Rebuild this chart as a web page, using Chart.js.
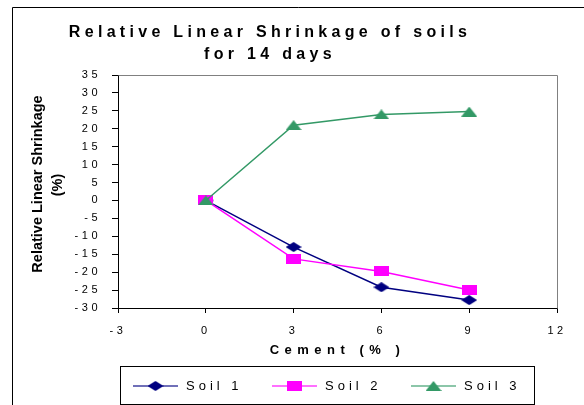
<!DOCTYPE html>
<html>
<head>
<meta charset="utf-8">
<script src="https://cdn.jsdelivr.net/npm/chart.js@4/dist/chart.umd.min.js"></script>
<style>
  html, body { margin: 0; padding: 0; background: #fff; }
  #wrap { width: 584px; height: 405px; position: relative; }
</style>
</head>
<body>
<div id="wrap"><canvas id="c" width="584" height="405"></canvas></div>
<script>
// Relative linear shrinkage (%) after 14 days against cement content (%)
const cementPct = [0, 3, 6, 9];
const soil1 = [0, -13.0, -24.2, -27.8];
const soil2 = [0, -16.3, -19.8, -25.0];
const soil3 = [0, 21.0, 24.0, 24.8];
const seriesNames = ['Soil 1', 'Soil 2', 'Soil 3'];
const seriesColors = ['#000080', '#FF00FF', '#339966'];
const titleLines = ['Relative Linear Shrinkage of soils', 'for 14 days'];
const yTitleLines = ['Relative Linear Shrinkage', '(%)'];
const xTitle = 'Cement (% )';

const FONT = '"Liberation Sans", Arial, Helvetica, sans-serif';

// Marker sprites (wide diamond, square and triangle)
function markerCanvas(shape, color, w, h) {
  const c = document.createElement('canvas');
  c.width = w; c.height = h;
  const g = c.getContext('2d');
  g.fillStyle = color;
  g.beginPath();
  if (shape === 'diamond') {
    g.moveTo(w / 2, 0); g.lineTo(w, h / 2); g.lineTo(w / 2, h); g.lineTo(0, h / 2);
  } else if (shape === 'square') {
    g.rect(0, 0, w, h);
  } else {
    g.moveTo(w / 2, 0); g.lineTo(w, h); g.lineTo(0, h);
  }
  g.closePath();
  g.fill();
  return c;
}
const markers = [
  markerCanvas('diamond', seriesColors[0], 16, 10),
  markerCanvas('square', seriesColors[1], 15, 10),
  markerCanvas('triangle', seriesColors[2], 16, 10)
];

function toPoints(ys) { return cementPct.map((x, i) => ({ x: x, y: ys[i] })); }
const seriesValues = [soil1, soil2, soil3];

const datasets = seriesValues.map((ys, i) => ({
  label: seriesNames[i],
  data: toPoints(ys),
  borderColor: seriesColors[i],
  backgroundColor: seriesColors[i],
  borderWidth: 1.5,
  pointStyle: markers[i],
  pointRadius: 6,
  pointHoverRadius: 6,
  tension: 0,
  order: 2 - i
}));

// Frame, chart title, plot border, y-axis title and legend
const decorations = {
  id: 'decorations',
  beforeDraw(chart) {
    chart.ctx.letterSpacing = '5.5px';   // spaced lettering for the x-axis title
  },
  afterDatasetsDraw(chart) {
    chart.ctx.letterSpacing = '3.5px'; // spaced tick labels
  },
  afterDraw(chart) {
    const ctx = chart.ctx;
    const a = chart.chartArea;
    ctx.save();
    ctx.letterSpacing = '0px';

    // outer frame
    ctx.strokeStyle = '#000';
    ctx.lineWidth = 1;
    ctx.beginPath();
    ctx.moveTo(12.5, 405); ctx.lineTo(12.5, 7.5); ctx.lineTo(584, 7.5);
    ctx.stroke();

    // plot area border (top / right)
    ctx.strokeStyle = '#808080';
    ctx.beginPath();
    ctx.moveTo(Math.round(a.left) + 0.5, Math.round(a.top) + 0.5);
    ctx.lineTo(Math.round(a.right) + 0.5, Math.round(a.top) + 0.5);
    ctx.lineTo(Math.round(a.right) + 0.5, Math.round(a.bottom) + 0.5);
    ctx.stroke();

    // chart title
    ctx.fillStyle = '#000';
    ctx.textAlign = 'center';
    ctx.textBaseline = 'alphabetic';
    ctx.font = 'bold 16px ' + FONT;
    ctx.letterSpacing = '4.3px';
    ctx.fillText(titleLines[0], 270, 37);
    ctx.fillText(titleLines[1], 270, 59);

    // y-axis title
    ctx.letterSpacing = '0px';
    ctx.font = 'bold 14.5px ' + FONT;
    ctx.textBaseline = 'middle';
    ctx.save();
    ctx.translate(38, 184);
    ctx.rotate(-Math.PI / 2);
    ctx.fillText(yTitleLines[0], 0, 0);
    ctx.restore();
    ctx.save();
    ctx.translate(58, 185);
    ctx.rotate(-Math.PI / 2);
    ctx.fillText(yTitleLines[1], 0, 0);
    ctx.restore();

    // legend box
    ctx.strokeStyle = '#000';
    ctx.lineWidth = 1;
    ctx.strokeRect(120.5, 366.5, 414, 38);
    const starts = [133, 272, 411];
    const ly = 386;
    chart.data.datasets.forEach((ds, i) => {
      const x0 = starts[i];
      ctx.globalAlpha = 0.75;
      ctx.strokeStyle = ds.borderColor;
      ctx.lineWidth = 1.5;
      ctx.beginPath();
      ctx.moveTo(x0, ly); ctx.lineTo(x0 + 45, ly);
      ctx.stroke();
      ctx.globalAlpha = 1;
      const m = ds.pointStyle;
      ctx.drawImage(m, x0 + 22.5 - m.width / 2, ly - m.height / 2);
      ctx.font = '13px ' + FONT;
      ctx.letterSpacing = '4px';
      ctx.textAlign = 'left';
      ctx.textBaseline = 'middle';
      ctx.fillStyle = '#000';
      ctx.fillText(ds.label, x0 + 53, ly);
      ctx.letterSpacing = '0px';
    });
    ctx.restore();
  }
};

new Chart(document.getElementById('c'), {
  type: 'line',
  data: { datasets: datasets },
  plugins: [decorations],
  options: {
    responsive: false,
    animation: false,
    devicePixelRatio: 1,
    layout: { padding: { left: 0, right: 27, top: 75, bottom: 41 } },
    plugins: {
      legend: { display: false },
      title: { display: false },
      tooltip: { enabled: false }
    },
    scales: {
      x: {
        type: 'linear',
        min: -3, max: 12,
        ticks: { stepSize: 3, color: '#000', font: { family: FONT, size: 11 }, padding: 11, z: 1, maxRotation: 0 },
        grid: { drawOnChartArea: false, drawTicks: true, tickLength: 5, color: '#000' },
        border: { display: true, color: '#000', width: 1 },
        title: { display: true, text: xTitle, color: '#000', font: { family: FONT, size: 13, weight: 'bold' }, padding: { top: 0, bottom: 6 } },
        afterFit(s) { s.height = 56; }
      },
      y: {
        type: 'linear',
        min: -30, max: 35,
        ticks: { stepSize: 5, color: '#000', font: { family: FONT, size: 11 }, padding: 11, z: 1 },
        grid: { drawOnChartArea: false, drawTicks: true, tickLength: 6, color: '#000' },
        border: { display: true, color: '#000', width: 1 },
        afterFit(s) { s.width = 118; }
      }
    }
  }
});
</script>
</body>
</html>
